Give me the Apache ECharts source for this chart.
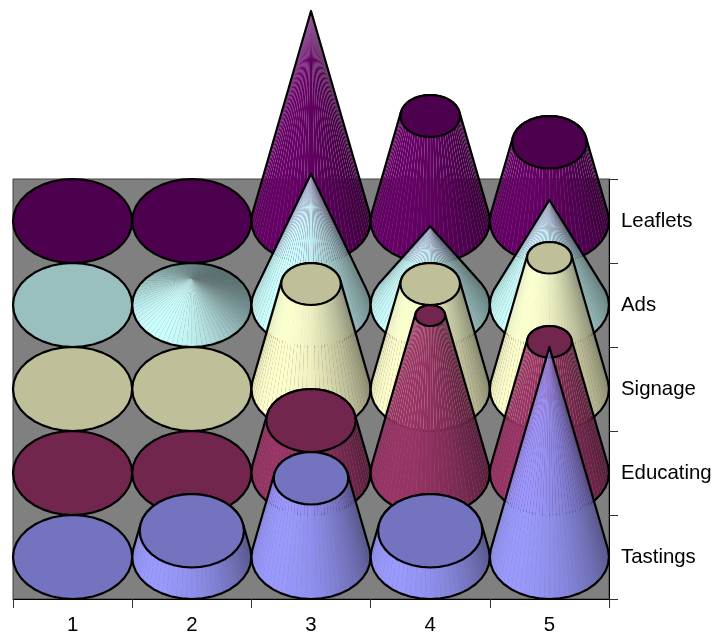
<!DOCTYPE html>
<html>
<head>
<meta charset="utf-8">
<style>html,body{margin:0;padding:0;background:#fff}#chart{width:718px;height:636px}</style>
<script src="https://cdn.jsdelivr.net/npm/echarts@6/dist/echarts.min.js"></script>
</head>
<body>
<div id="chart"></div>
<script>
// Campaign counts per period, one list per channel
const periods = ['1', '2', '3', '4', '5'];
const channels = ['Tastings', 'Educating', 'Signage', 'Ads', 'Leaflets'];
const tastings = [0, 1, 3, 1, 8];
const educating = [0, 0, 2, 6, 5];
const signage = [0, 0, 4, 4, 5];
const ads = [0, 1, 5, 3, 4];
const leaflets = [0, 0, 8, 4, 3];
const channelColors = ['#9999FF', '#993366', '#FFFFCC', '#CCFFFF', '#660066'];

const MAX_VALUE = 8;          // a cone closes to a point at this value
const UNITS_PER_ROW = 3.2;    // value units spanned by one row of the floor
const RIM_SEGMENTS = 36;
const SIDE_FACETS = 72;

function rgb(hex) {
  return [1, 3, 5].map(i => parseInt(hex.substr(i, 2), 16));
}
function scaled(c, k) {
  return 'rgb(' + c.map(v => Math.round(v * k)).join(',') + ')';
}
// Directional light coming from the front left
function lightAt(theta) {
  const l = (Math.cos(theta - 4.0) + 1) / 2;
  return 0.44 + 0.56 * l;
}
function ring(cx, cy, rx, ry, n) {
  const pts = [];
  for (let i = 0; i < n; i++) {
    const t = (i / n) * Math.PI * 2;
    pts.push([cx + rx * Math.cos(t), cy - ry * Math.sin(t)]);
  }
  return pts;
}
function hull(points) {
  const p = points.slice().sort((a, b) => a[0] - b[0] || a[1] - b[1]);
  const cross = (o, a, b) => (a[0] - o[0]) * (b[1] - o[1]) - (a[1] - o[1]) * (b[0] - o[0]);
  const half = list => {
    const out = [];
    for (const q of list) {
      while (out.length > 1 && cross(out[out.length - 2], out[out.length - 1], q) <= 0) out.pop();
      out.push(q);
    }
    out.pop();
    return out;
  };
  return half(p).concat(half(p.slice().reverse()));
}

function coneRenderer(color, pointed) {
  const base = rgb(color);
  return function (params, api) {
    const center = api.coord([api.value(0), api.value(1)]);
    const size = api.size([1, 1]);
    const value = api.value(2);
    const rx = size[0] / 2, ry = size[1] / 2;
    const unit = size[1] / UNITS_PER_ROW;
    const cx = center[0], cy = center[1];
    const capFill = scaled(base, 0.75);
    const line = { stroke: '#000', lineWidth: 2.2, lineJoin: 'round' };
    const children = [];

    if (value === 0) {
      children.push({
        type: 'polygon',
        shape: { points: ring(cx, cy, rx, ry, RIM_SEGMENTS) },
        style: Object.assign({ fill: capFill }, line)
      });
      return { type: 'group', children };
    }

    const taper = pointed ? 0 : 1 - value / MAX_VALUE;
    const topY = cy - value * unit;
    const lowerRim = ring(cx, cy, rx, ry, SIDE_FACETS);
    const upperRim = ring(cx, topY, rx * taper, ry * taper, SIDE_FACETS);

    for (let i = 0; i < SIDE_FACETS; i++) {
      const j = (i + 1) % SIDE_FACETS;
      const quad = [lowerRim[i], lowerRim[j], upperRim[j], upperRim[i]];
      let area = 0;
      for (let a = 0; a < 4; a++) {
        const b = (a + 1) % 4;
        area += quad[a][0] * quad[b][1] - quad[b][0] * quad[a][1];
      }
      // Facets turned away from the viewer are never painted
      if (area > 0) continue;
      const mid = ((i + 0.5) / SIDE_FACETS) * Math.PI * 2;
      children.push({
        type: 'polygon',
        shape: { points: quad },
        style: { fill: scaled(base, lightAt(mid)), stroke: null }
      });
    }

    const lowerOutline = ring(cx, cy, rx, ry, RIM_SEGMENTS);
    const upperOutline = ring(cx, topY, rx * taper, ry * taper, RIM_SEGMENTS);
    children.push({
      type: 'polygon',
      shape: { points: hull(lowerOutline.concat(upperOutline)) },
      style: Object.assign({ fill: null }, line)
    });
    if (taper > 0) {
      children.push({
        type: 'polygon',
        shape: { points: upperOutline },
        style: Object.assign({ fill: capFill }, line)
      });
    }
    return { type: 'group', children };
  };
}

const rows = [tastings, educating, signage, ads, leaflets];
const isPointed = name => name === 'Ads';

// Rear rows are added first so the nearer rows paint over them
const series = channels.map((name, r) => ({ name, r })).reverse().map(({ name, r }) => ({
  type: 'custom',
  name,
  silent: true,
  animation: false,
  clip: false,
  progressive: 0,
  coordinateSystem: 'cartesian2d',
  renderItem: coneRenderer(channelColors[r], isPointed(name)),
  data: rows[r].map((v, c) => [c, r, v])
}));

const labelStyle = { color: '#000', fontSize: 20.4, fontFamily: '"Liberation Sans", Arial, sans-serif' };
const tickStyle = { show: true, length: 9, lineStyle: { color: '#333', width: 1 } };

const chart = echarts.init(document.getElementById('chart'), null, { renderer: 'canvas' });
chart.setOption({
  animation: false,
  backgroundColor: '#fff',
  tooltip: { show: false },
  grid: { show: true, left: 13, top: 179, width: 596, height: 420, backgroundColor: '#808080', borderColor: '#404040', borderWidth: 1, containLabel: false },
  xAxis: {
    type: 'category',
    data: periods,
    boundaryGap: true,
    axisLine: { show: true, onZero: false, lineStyle: { color: '#000', width: 1 } },
    axisTick: tickStyle,
    axisLabel: Object.assign({ margin: 16, interval: 0 }, labelStyle),
    splitLine: { show: false }
  },
  yAxis: {
    type: 'category',
    position: 'right',
    data: channels,
    boundaryGap: true,
    axisLine: { show: true, onZero: false, lineStyle: { color: '#000', width: 1 } },
    axisTick: tickStyle,
    axisLabel: Object.assign({ margin: 12, interval: 0 }, labelStyle),
    splitLine: { show: false }
  },
  series
});
</script>
</body>
</html>
